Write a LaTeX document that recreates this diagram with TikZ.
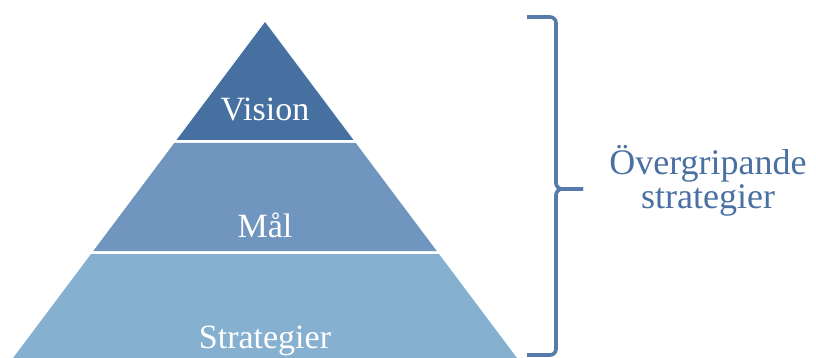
\documentclass[tikz,border=0pt]{standalone}
\usepackage{fontspec}
\setmainfont{Liberation Serif}
\definecolor{cvision}{RGB}{70,112,160}
\definecolor{cmal}{RGB}{112,150,192}
\definecolor{cstrat}{RGB}{134,176,208}
\definecolor{cbrace}{RGB}{86,122,170}
\definecolor{ctext}{RGB}{74,112,162}
\begin{document}
\begin{tikzpicture}[x=1pt,y=-1pt,
  layertext/.style={text=white,font=\fontsize{34}{34}\selectfont,inner sep=0pt},
  bracetext/.style={text=ctext,font=\fontsize{36}{34}\selectfont,align=center,inner sep=0pt}]
\useasboundingbox (0,0) rectangle (816,358);
% layers
\fill[cvision] (265,22) -- (176.5,140) -- (353.5,140) -- cycle;
\fill[cmal] (174.25,143) -- (355.75,143) -- (436.75,251) -- (93.25,251) -- cycle;
\fill[cstrat] (91,254) -- (439,254) -- (517,358) -- (13,358) -- cycle;
% texts
\node[layertext,anchor=base] (vision) at (265,121) {Vision};
\node[layertext,anchor=base] (mal) at (265,237) {Mål};
\node[layertext,anchor=base] (strat) at (265,348) {Strategier};
% brace
\draw[cbrace,line width=3.6pt,rounded corners=6pt] (527,17) -- (556,17) -- (556,189) -- (583,189);
\draw[cbrace,line width=3.6pt,rounded corners=6pt] (583,189) -- (556,189) -- (556,355) -- (527,355);
\node[bracetext] (label) at (708,181) {Övergripande\\strategier};
\end{tikzpicture}
\end{document}
